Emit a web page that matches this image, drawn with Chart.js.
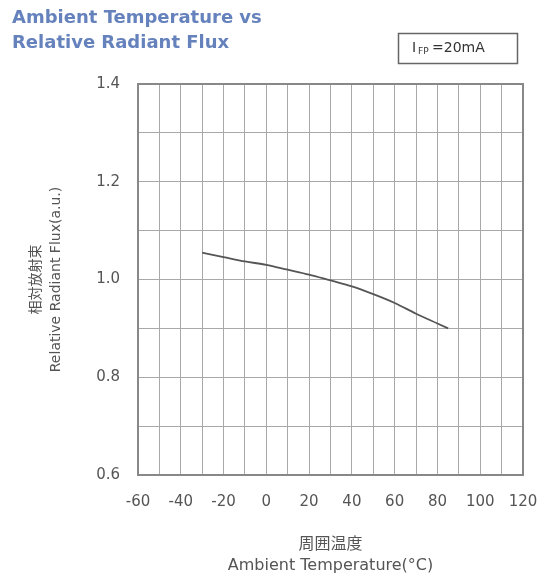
<!DOCTYPE html>
<html>
<head>
<meta charset="utf-8">
<script src="https://cdn.jsdelivr.net/npm/chart.js@4/dist/chart.umd.min.js"></script>
<style>
    html, body { margin: 0; padding: 0; background: #fff; }
    #wrap { width: 544px; height: 577px; }
</style>
</head>
<body>
<div id="wrap"><canvas id="fluxChart" width="544" height="577"></canvas></div>
<script>
// values
const temps = [-30, -20, -10, 0, 10, 20, 30, 40, 50, 60, 70, 80, 85];
const relFlux = [1.055, 1.046, 1.037, 1.03, 1.02, 1.01, 0.998, 0.986, 0.97, 0.952, 0.93, 0.91, 0.90];
const xLabels = [-60, -40, -20, 0, 20, 40, 60, 80, 100, 120];
const yLabels = [0.6, 0.8, 1.0, 1.2, 1.4];
const titleLines = ["Ambient Temperature vs", "Relative Radiant Flux"];

// title, condition box and the frame round the plot
const headerPlugin = {
    id: "header",
    beforeDatasetsDraw(chart) {
        const a = chart.chartArea;
        const c = chart.ctx;
        c.save();
        c.strokeStyle = "#888";
        c.lineWidth = 2;
        c.strokeRect(a.left, a.top, a.right - a.left, a.bottom - a.top);
        c.restore();
    },
    afterDraw(chart) {
        const c = chart.ctx;
        c.save();
        c.fillStyle = "#6582bd";
        c.font = "bold 18px 'DejaVu Sans', sans-serif";
        c.textBaseline = "middle";
        c.textAlign = "left";
        c.fillText(titleLines[0], 12, 18);
        c.fillText(titleLines[1], 12, 43);

        // I_FP = 20mA box
        c.strokeStyle = "#666";
        c.lineWidth = 1.5;
        c.strokeRect(398.5, 33.5, 119, 30);
        c.fillStyle = "#333";
        c.font = "14px 'DejaVu Sans', sans-serif";
        c.fillText("I", 412, 48);
        c.font = "9px 'DejaVu Sans', sans-serif";
        c.fillText("FP", 418, 52);
        c.font = "14px 'DejaVu Sans', sans-serif";
        c.fillText("=20mA", 432, 48);
        c.restore();
    }
};

const ctx = document.getElementById("fluxChart").getContext("2d");
const fluxChart = new Chart(ctx, {
    type: "line",
    data: {
        datasets: [{
            data: temps.map((t, i) => ({ x: t, y: relFlux[i] })),
            borderColor: "#555",
            borderWidth: 1.8,
            pointRadius: 0,
            fill: false,
            cubicInterpolationMode: "monotone"
        }]
    },
    options: {
        responsive: false,
        animation: false,
        layout: { padding: { top: 84, right: 21, bottom: 0, left: 0 } },
        plugins: {
            legend: { display: false },
            tooltip: { enabled: false }
        },
        scales: {
            x: {
                type: "linear",
                min: -60,
                max: 120,
                afterFit: s => {
                    s.height = 102;
                    s.paddingLeft = 0;
                    s.paddingRight = 0;
                },
                ticks: {
                    stepSize: 10,
                    padding: 18,
                    maxRotation: 0,
                    autoSkip: false,
                    color: "#555",
                    font: { family: "'DejaVu Sans', sans-serif", size: 15 },
                    callback: v => xLabels.includes(v) ? String(v) : ""
                },
                grid: { color: "#a8a8a8", lineWidth: 1, drawTicks: false },
                border: { color: "#888", width: 2 },
                title: {
                    display: true,
                    text: ["周囲温度", "Ambient Temperature(°C)"],
                    color: "#555",
                    font: { family: "'DejaVu Sans', 'Noto Sans CJK JP', sans-serif", size: 16, lineHeight: 1.35 },
                    padding: { top: 0, bottom: 0 }
                }
            },
            y: {
                type: "linear",
                min: 0.6,
                max: 1.4,
                afterFit: s => {
                    s.width = 138;
                    s.paddingTop = 0;
                    s.paddingBottom = 0;
                },
                ticks: {
                    stepSize: 0.1,
                    padding: 18,
                    autoSkip: false,
                    color: "#555",
                    font: { family: "'DejaVu Sans', sans-serif", size: 15 },
                    callback: v => yLabels.some(l => Math.abs(l - v) < 1e-6) ? v.toFixed(1) : ""
                },
                grid: { color: "#a8a8a8", lineWidth: 1, drawTicks: false },
                border: { color: "#888", width: 2 },
                title: {
                    display: true,
                    text: ["相対放射束", "Relative Radiant Flux(a.u.)"],
                    color: "#555",
                    font: { family: "'DejaVu Sans', 'Noto Sans CJK JP', sans-serif", size: 14, lineHeight: 1.45 },
                    padding: { top: 26, bottom: 0 }
                }
            }
        }
    },
    plugins: [headerPlugin]
});
</script>
</body>
</html>
